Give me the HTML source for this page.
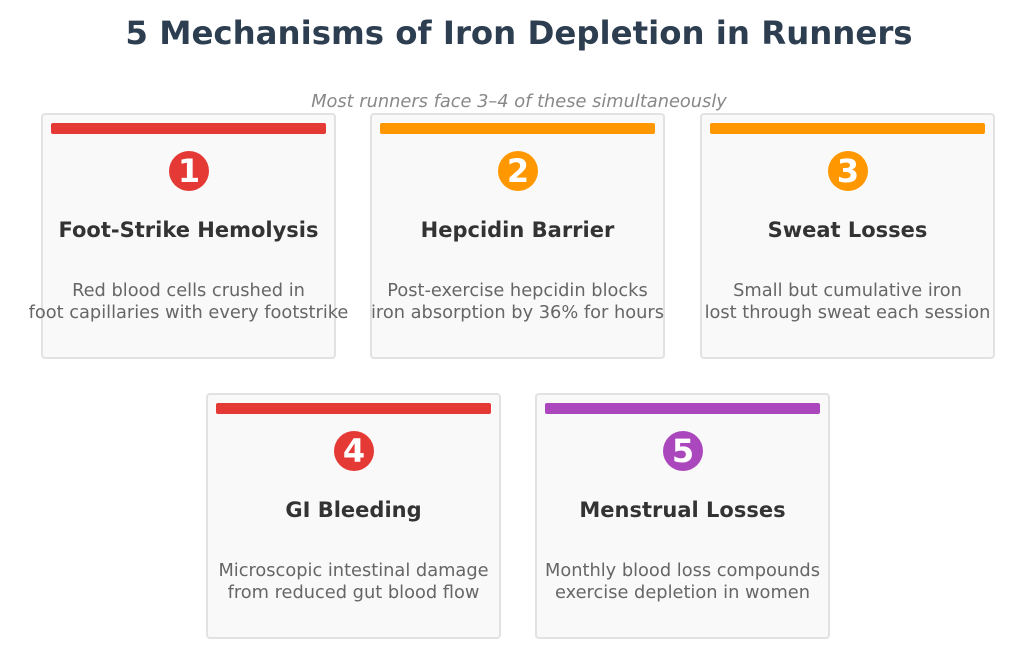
<!DOCTYPE html><html><head><style>
body{margin:0;width:1024px;height:659px;background:#fff;font-family:"DejaVu Sans",sans-serif;position:relative;overflow:hidden}
.t{position:absolute;left:7px;width:1024px;text-align:center}
.c{position:absolute;width:291px;height:242px;border:2px solid #e2e2e2;border-radius:4px;background:#f9f9f9}
.b{position:absolute;left:8px;top:8px;width:275px;height:11px;border-radius:2px}
.n{position:absolute;left:126px;top:36px;width:40px;height:40px;border-radius:50%;color:#fff;font-weight:bold;font-size:32px;line-height:40px;text-align:center}
.h{position:absolute;left:-20px;width:331px;top:103px;text-align:center;font-weight:bold;font-size:21px;color:#333}
.d{position:absolute;left:-40px;width:371px;top:165px;text-align:center;font-size:17.8px;line-height:22px;color:#666}
</style></head><body>
<div class="t" style="top:14px;font-size:32.4px;font-weight:bold;color:#2c3e50">5 Mechanisms of Iron Depletion in Runners</div>
<div class="t" style="top:91px;font-size:17.8px;font-style:italic;color:#888">Most runners face 3–4 of these simultaneously</div>
<div class="c" style="left:41px;top:113px"><div class="b" style="background:#e53935"></div><div class="n" style="background:#e53935">1</div><div class="h">Foot-Strike Hemolysis</div><div class="d">Red blood cells crushed in<br>foot capillaries with every footstrike</div></div>
<div class="c" style="left:370px;top:113px"><div class="b" style="background:#ff9800"></div><div class="n" style="background:#ff9800">2</div><div class="h">Hepcidin Barrier</div><div class="d">Post-exercise hepcidin blocks<br>iron absorption by 36% for hours</div></div>
<div class="c" style="left:700px;top:113px"><div class="b" style="background:#ff9800"></div><div class="n" style="background:#ff9800">3</div><div class="h">Sweat Losses</div><div class="d">Small but cumulative iron<br>lost through sweat each session</div></div>
<div class="c" style="left:206px;top:393px"><div class="b" style="background:#e53935"></div><div class="n" style="background:#e53935">4</div><div class="h">GI Bleeding</div><div class="d">Microscopic intestinal damage<br>from reduced gut blood flow</div></div>
<div class="c" style="left:535px;top:393px"><div class="b" style="background:#ab47bc"></div><div class="n" style="background:#ab47bc">5</div><div class="h">Menstrual Losses</div><div class="d">Monthly blood loss compounds<br>exercise depletion in women</div></div>
</body></html>
